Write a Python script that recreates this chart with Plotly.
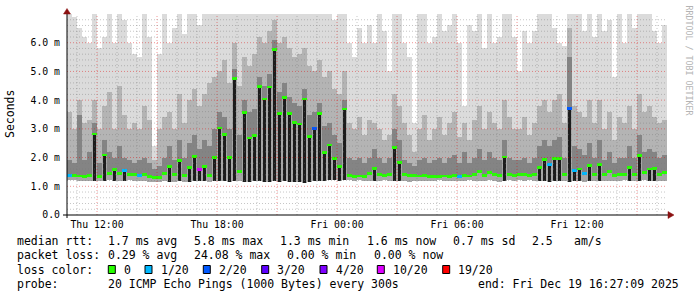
import plotly.graph_objects as go
import pandas as pd

# ---------------- data ----------------
START = "2025-12-18 10:30"
END = "2025-12-19 16:30"
SLOT_MINUTES = 15

# median RTT per 15-minute slot, in milliseconds
median_ms = [
    1.37, 1.37, 1.36, 1.33, 1.38, 2.82, 1.35, 2.09, 1.45, 1.57,
    1.45, 1.55, 1.42, 1.40, 1.37, 1.40, 1.35, 1.32, 1.32, 1.45,
    1.70, 1.40, 1.89, 1.38, 1.65, 2.05, 1.57, 1.70, 1.38, 2.00,
    3.03, 2.79, 2.00, 4.76, 1.50, 3.56, 2.68, 2.77, 4.47, 4.04,
    4.46, 5.77, 3.52, 4.09, 3.52, 3.23, 3.17, 4.04, 2.73, 3.02,
    3.52, 2.17, 2.44, 1.98, 1.68, 3.69, 1.38, 1.35, 1.36, 1.33,
    1.45, 1.63, 1.40, 1.38, 1.42, 2.36, 1.84, 1.40, 1.37, 1.38,
    1.36, 1.37, 1.35, 1.34, 1.35, 1.36, 1.34, 1.37, 1.35, 1.38,
    1.36, 1.40, 1.50, 1.38, 1.48, 1.40, 1.37, 2.02, 1.40, 1.38,
    1.40, 1.42, 1.37, 1.40, 1.65, 1.94, 1.77, 1.96, 1.96, 1.42,
    3.72, 1.55, 1.60, 1.45, 1.71, 1.40, 1.77, 1.40, 1.50, 1.38,
    1.42, 1.40, 1.65, 1.40, 2.07, 1.48, 1.60, 1.62, 1.42, 1.48,
]
# lost pings (of 20) per slot
loss_pings = [
    1, 0, 0, 0, 0, 0, 0, 0, 0, 0,
    0, 1, 0, 0, 1, 0, 0, 0, 0, 0,
    0, 0, 0, 0, 0, 0, 10, 0, 0, 0,
    0, 0, 0, 0, 0, 0, 0, 0, 0, 0,
    0, 0, 0, 0, 0, 0, 0, 0, 0, 2,
    0, 0, 0, 0, 0, 0, 0, 0, 0, 0,
    0, 0, 0, 0, 0, 0, 0, 0, 0, 0,
    0, 0, 0, 0, 0, 0, 0, 0, 1, 0,
    0, 0, 0, 0, 0, 0, 0, 0, 0, 0,
    0, 0, 0, 0, 0, 0, 1, 0, 0, 0,
    2, 1, 0, 1, 0, 0, 0, 0, 0, 0,
    0, 0, 0, 0, 0, 0, 0, 0, 0, 0,
]
# smoke: fastest ping per slot (ms)
min_ms = [
    1.22, 1.22, 1.20, 1.18, 1.20, 1.20, 1.18, 1.20, 1.22, 1.18,
    1.20, 1.20, 1.22, 1.20, 1.20, 1.18, 1.16, 1.15, 1.15, 1.18,
    1.16, 1.15, 1.18, 1.15, 1.16, 1.18, 1.20, 1.18, 1.15, 1.18,
    1.20, 1.18, 1.15, 1.20, 1.18, 1.15, 1.16, 1.18, 1.20, 1.16,
    1.15, 1.18, 1.15, 1.20, 1.15, 1.16, 1.15, 1.12, 1.15, 1.20,
    1.18, 1.20, 1.22, 1.22, 1.20, 1.22, 1.22, 1.20, 1.22, 1.20,
    1.20, 1.18, 1.20, 1.22, 1.20, 1.18, 1.20, 1.20, 1.16, 1.20,
    1.18, 1.20, 1.20, 1.20, 1.22, 1.20, 1.18, 1.20, 1.20, 1.20,
    1.22, 1.20, 1.18, 1.20, 1.22, 1.20, 1.16, 1.20, 1.22, 1.20,
    1.22, 1.20, 1.22, 1.20, 1.18, 1.20, 1.15, 1.18, 1.20, 1.18,
    1.16, 1.18, 1.20, 1.15, 1.20, 1.18, 1.20, 1.20, 1.18, 1.20,
    1.20, 1.22, 1.18, 1.20, 1.20, 1.22, 1.20, 1.18, 1.20, 1.20,
]
# smoke: upper edge of the dense (dark) part above the median (ms)
dense_top_ms = [
    1.9, 1.8, 3.5, 1.9, 2.2, 3.2, 1.8, 2.6, 2.2, 2.0,
    2.4, 2.0, 1.9, 1.8, 1.9, 2.0, 1.8, 1.6, 1.7, 2.0,
    2.4, 1.9, 2.6, 2.0, 2.5, 2.8, 2.3, 2.6, 2.4, 3.0,
    3.6, 3.4, 3.0, 5.1, 2.8, 4.0, 3.6, 3.7, 4.8, 4.5,
    4.9, 6.1, 4.3, 4.6, 4.1, 3.9, 3.8, 4.4, 3.5, 3.6,
    3.9, 3.1, 3.2, 2.8, 2.5, 4.0, 2.0, 1.9, 2.0, 1.8,
    2.0, 2.3, 2.0, 1.8, 2.0, 3.0, 2.6, 1.9, 1.8, 1.7,
    1.9, 2.0, 1.8, 1.9, 2.0, 1.8, 2.0, 2.1, 1.8, 2.2,
    1.8, 2.0, 2.3, 1.9, 2.2, 2.0, 1.9, 2.6, 2.0, 1.9,
    1.9, 2.0, 1.8, 2.0, 2.4, 2.6, 2.4, 2.6, 2.7, 2.0,
    5.5, 2.4, 2.3, 2.1, 2.5, 2.0, 2.6, 1.9, 2.2, 1.8,
    2.0, 2.0, 2.4, 2.0, 2.8, 2.2, 2.3, 2.2, 2.0, 2.1,
]
# smoke: upper edge of the medium-grey part (ms)
mid_top_ms = [
    3.6, 3.0, 4.0, 3.2, 3.3, 4.0, 3.0, 3.8, 4.3, 3.0,
    4.5, 3.5, 3.0, 3.2, 3.0, 3.8, 3.3, 1.9, 3.0, 3.4,
    3.6, 3.0, 4.2, 3.2, 4.0, 4.4, 3.8, 4.2, 4.6, 4.8,
    5.0, 5.4, 4.6, 6.0, 4.5, 5.5, 5.2, 5.6, 6.2, 6.0,
    6.4, 6.8, 6.0, 6.2, 5.8, 5.5, 5.6, 5.8, 5.2, 5.0,
    5.4, 4.8, 5.0, 4.4, 4.2, 5.0, 3.2, 3.0, 3.4, 2.8,
    3.3, 3.2, 3.0, 2.6, 2.8, 4.2, 3.8, 3.2, 2.8, 2.2,
    3.0, 3.5, 2.6, 3.0, 3.4, 2.8, 3.2, 3.6, 2.7, 3.2,
    2.6, 3.3, 3.8, 3.0, 3.6, 3.2, 3.0, 4.0, 3.4, 3.0,
    3.0, 3.4, 2.8, 3.2, 3.8, 4.0, 3.6, 4.0, 4.2, 3.2,
    6.5, 3.8, 3.6, 3.4, 4.0, 3.2, 4.0, 3.0, 3.6, 2.6,
    3.4, 3.2, 3.8, 3.0, 4.2, 3.6, 3.8, 3.4, 3.2, 3.3,
]
# smoke: slowest ping per slot (ms); the axis stops at 7.0
max_ms = [
    7.0, 6.9, 6.5, 6.2, 6.0, 7.0, 5.8, 6.2, 7.0, 6.0,
    7.0, 6.8, 6.0, 5.6, 5.5, 7.0, 6.2, 2.4, 5.6, 7.0,
    6.0, 6.5, 7.0, 6.3, 7.0, 7.0, 6.6, 7.0, 7.0, 7.0,
    7.0, 7.0, 7.0, 7.0, 7.0, 7.0, 7.0, 7.0, 7.0, 7.0,
    7.0, 7.0, 7.0, 7.0, 7.0, 7.0, 7.0, 7.0, 7.0, 7.0,
    7.0, 7.0, 7.0, 6.8, 7.0, 7.0, 6.0, 5.5, 6.5, 6.0,
    6.6, 6.0, 7.0, 6.4, 5.0, 7.0, 7.0, 6.0, 5.5, 3.2,
    7.0, 7.0, 6.0, 6.2, 7.0, 6.4, 6.6, 7.0, 6.0, 3.8,
    6.6, 6.4, 7.0, 5.8, 7.0, 6.0, 6.2, 7.0, 7.0, 6.2,
    5.0, 6.4, 6.0, 6.4, 7.0, 7.0, 7.0, 6.5, 6.0, 5.9,
    7.0, 7.0, 7.0, 6.4, 7.0, 6.2, 7.0, 6.4, 6.8, 4.8,
    7.0, 6.0, 7.0, 6.5, 7.0, 7.0, 7.0, 6.4, 6.0, 6.6,
]

x_tick_vals = ["2025-12-18 12:00", "2025-12-18 18:00", "2025-12-19 00:00",
               "2025-12-19 06:00", "2025-12-19 12:00"]
x_tick_text = ["Thu 12:00", "Thu 18:00", "Fri 00:00", "Fri 06:00", "Fri 12:00"]
y_tick_vals = [0, 1, 2, 3, 4, 5, 6]
y_tick_text = ["0.0", "1.0 m", "2.0 m", "3.0 m", "4.0 m", "5.0 m", "6.0 m"]

loss_levels = [0, 1, 2, 3, 4, 10, 19]
loss_colors = ["#26ff00", "#00b8ff", "#0059ff", "#5e00ff", "#7e00ff", "#dd00ff", "#ff0000"]
loss_labels = ["0", "1/20", "2/20", "3/20", "4/20", "10/20", "19/20"]

legend_rtt = ["1.7 ms avg", "5.8 ms max", "1.3 ms min", "1.6 ms now", "0.7 ms sd", "2.5", "am/s"]
legend_loss = ["0.29 % avg", "24.08 % max", "0.00 % min", "0.00 % now"]
probe_text = "20 ICMP Echo Pings (1000 Bytes) every 300s"
end_text = "end: Fri Dec 19 16:27:09 2025"

# ---------------- geometry helpers (pixels of the 697x297 canvas) ----------------
W, H = 697, 297
PL, PR, PT, PB = 67, 667, 14, 215          # plot area in pixels
YMAX = 7.0


def px_x(px):
    return (px - PL) / (PR - PL)


def px_y(py):
    return (PB - py) / (PB - PT)


MONO = "DejaVu Sans Mono"

t0 = pd.Timestamp(START)
slot_ms = SLOT_MINUTES * 60 * 1000
times = [t0 + pd.Timedelta(minutes=SLOT_MINUTES * i + SLOT_MINUTES / 2) for i in range(len(median_ms))]


def loss_color(n):
    c = loss_colors[0]
    for lvl, col in zip(loss_levels, loss_colors):
        if n >= lvl:
            c = col
    return c


fig = go.Figure()


def smoke(base, top, color, width=slot_ms):
    fig.add_trace(go.Bar(
        x=times, base=base,
        y=[None if (t is None or b is None) else t - b for t, b in zip(top, base)], width=width,
        marker=dict(color=color, line=dict(width=0)), hoverinfo="skip", showlegend=False,
    ))


smoke(min_ms, max_ms, "#dbdbdb")
smoke(min_ms, mid_top_ms, "#b4b4b4")
smoke(min_ms, dense_top_ms, "#848484")
smoke(min_ms, median_ms, "#a6a6a6")
# narrow dark core where the median climbs well above the fastest ping
spike_top = [m if (m - lo) > 0.35 else None for m, lo in zip(median_ms, min_ms)]
smoke(min_ms, spike_top, "#1c1c1c", width=slot_ms * 0.5)

# median marks coloured by loss
fig.add_trace(go.Bar(
    x=times, base=[m - 0.05 for m in median_ms], y=[0.1] * len(median_ms), width=slot_ms,
    marker=dict(color=[loss_color(n) for n in loss_pings], line=dict(width=0)),
    hoverinfo="skip", showlegend=False,
))

shapes = []
# vertical grid: every hour (minor), every 3 hours (major)
h = pd.Timestamp("2025-12-18 11:00")
while h < pd.Timestamp(END):
    major = h.hour % 3 == 0
    shapes.append(dict(type="line", xref="x", yref="paper", x0=h, x1=h, y0=0, y1=1, layer="above",
                       line=dict(color="rgba(225,0,0,0.42)" if major else "rgba(120,120,120,0.42)",
                                 width=1, dash="1px,2px")))
    h += pd.Timedelta(hours=1)
# horizontal grid: every 0.2 ms (minor), every 1 ms (major)
for k in range(1, 35):
    v = k * 0.2
    major = k % 5 == 0
    shapes.append(dict(type="line", xref="paper", yref="y", x0=0, x1=1, y0=v, y1=v, layer="above",
                       line=dict(color="rgba(225,0,0,0.42)" if major else "rgba(120,120,120,0.42)",
                                 width=1, dash="1px,2px")))
# axis lines and arrows
shapes.append(dict(type="line", xref="paper", yref="paper", x0=px_x(63), x1=px_x(669), y0=0, y1=0,
                   line=dict(color="black", width=1), layer="above"))
shapes.append(dict(type="line", xref="paper", yref="paper", x0=0, x1=0, y0=px_y(218), y1=px_y(11),
                   line=dict(color="black", width=1), layer="above"))
shapes.append(dict(type="path", xref="paper", yref="paper", layer="above",
                   path=f"M {px_x(67)} {px_y(8.5)} L {px_x(63.5)} {px_y(14)} L {px_x(70.5)} {px_y(14)} Z",
                   fillcolor="#8b1010", line=dict(color="#8b1010", width=0.5)))
shapes.append(dict(type="path", xref="paper", yref="paper", layer="above",
                   path=f"M {px_x(674)} {px_y(215)} L {px_x(668)} {px_y(211.5)} L {px_x(668)} {px_y(218.5)} Z",
                   fillcolor="#8b1010", line=dict(color="#8b1010", width=0.5)))

# legend squares
square_left_px = [108.3, 145, 203.3, 261.7, 320, 377.3, 442.7]
for sx, col in zip(square_left_px, loss_colors):
    shapes.append(dict(type="rect", xref="paper", yref="paper", x0=px_x(sx), x1=px_x(sx + 7),
                       y0=px_y(273.5), y1=px_y(265.5), fillcolor=col, line=dict(color="black", width=1)))

ann = []


def text(s, xpx, ypx, size=11.5, color="black", anchor="left", angle=0):
    ann.append(dict(text=s.replace(" ", "\u00a0"), xref="paper", yref="paper", x=px_x(xpx), y=px_y(ypx),
                    xanchor=anchor, yanchor="middle", showarrow=False, textangle=angle, borderpad=0,
                    font=dict(family=MONO, size=size, color=color)))


L1, L2, L3, L4 = 240.5, 255, 269.5, 283.5
text("median rtt:", 16, L1)
for s, xp in zip(legend_rtt, [107.3, 193.3, 279.3, 365.5, 451.7, 530.7, 572.7]):
    text(s, xp, L1)
text("packet loss:", 16, L2)
for s, xp in zip(legend_loss, [107.3, 193.3, 286.3, 372.7]):
    text(s, xp, L2)
text("loss color:", 16, L3)
for s, sx in zip(loss_labels, square_left_px):
    text(s, sx + 14.7, L3)
text("probe:", 16, L4)
text(probe_text, 107.3, L4)
text(end_text, 680, L4, anchor="right")

# axis title and watermark
text("Seconds", 10, 114, size=11.5, anchor="center", angle=-90)
text("RRDTOOL / TOBI OETIKER", 688.5, 60, size=8.3, color="#b4b4b4", anchor="center", angle=90)

fig.update_layout(
    width=W, height=H,
    margin=dict(l=PL, r=W - PR, t=PT, b=H - PB, pad=0),
    paper_bgcolor="white", plot_bgcolor="white",
    barmode="overlay", bargap=0,
    showlegend=False,
    shapes=shapes, annotations=ann,
    xaxis=dict(type="date", range=[START, END], tickvals=x_tick_vals, ticktext=x_tick_text,
               showgrid=False, zeroline=False, showline=False, ticks="", ticklabelstandoff=2,
               tickfont=dict(family=MONO, size=9.8, color="black"), fixedrange=True),
    yaxis=dict(range=[0, YMAX], tickvals=y_tick_vals, ticktext=y_tick_text,
               showgrid=False, zeroline=False, showline=False, ticks="", ticklabelstandoff=6,
               tickfont=dict(family=MONO, size=9.8, color="black"), fixedrange=True),
)

fig.write_html("out.html", config={"displayModeBar": False})
